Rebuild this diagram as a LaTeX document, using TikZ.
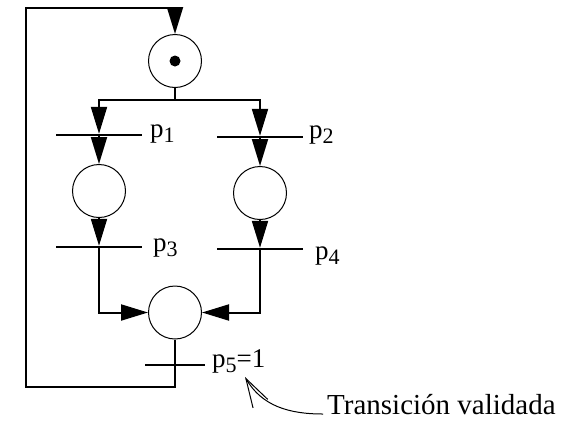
\documentclass[tikz,border=0pt]{standalone}
\usepackage{fontspec}
\setmainfont{Liberation Serif}
\usetikzlibrary{arrows.meta}
\newcommand{\lowsub}[1]{\raisebox{-5.5pt}{\fontsize{22}{22}\selectfont #1}}
\begin{document}
\begin{tikzpicture}[x=1pt,y=1pt,
  place/.style={circle,draw,line width=1pt,minimum size=53pt,inner sep=0pt},
  trans/.style={rectangle,fill=black,inner sep=0pt,minimum height=2pt},
  arc/.style={line width=2pt,-{Triangle[length=27pt,width=16pt]}},
  plain/.style={line width=2pt},
  lbl/.style={font=\fontsize{27}{32}\selectfont,inner sep=0pt,anchor=base west},
  notetext/.style={font=\fontsize{29}{34}\selectfont,inner xsep=4pt,inner ysep=0pt,anchor=base west},
  note/.style={line width=1pt,-{Straight Barb[length=29pt,width=17pt]}}]
\useasboundingbox (0,0) rectangle (575,-421);
% places
\node[place] (c0) at (175,-61) {};
\fill (c0.center) circle (5.5);
\node[place] (c1) at (99,-191) {};
\node[place] (c2) at (260,-193) {};
\node[place] (c5) at (175,-312.5) {};
% transitions
\node[trans,minimum width=86pt] (t1) at (99,-135) {};
\node[trans,minimum width=86pt] (t2) at (260,-137) {};
\node[trans,minimum width=86pt] (t3) at (99,-247) {};
\node[trans,minimum width=86pt] (t4) at (260,-249) {};
\node[trans,minimum width=60pt] (t5) at (175,-365) {};
% helper coordinates
\coordinate (j) at (175,-100);
\coordinate (bl) at (26,-387);
\coordinate (tl) at (26,-8);
% arcs
\draw[plain] (c0.south) -- (j);
\draw[arc] (j) -| (t1.north);
\draw[arc] (j) -| (t2.north);
\draw[arc] (t1.center) -- (c1.north);
\draw[arc] (t2.center) -- (c2.north);
\draw[arc] (c1.south) -- (t3.north);
\draw[arc] (c2.south) -- (t4.north);
\draw[arc] (t3.center) |- (c5.west);
\draw[arc] (t4.center) |- (c5.east);
\draw[arc] (c5.south) |- (bl) -- (tl) -| (c0.north);
% labels
\node[lbl] (l1) at (150,-137) {p\lowsub{1}};
\node[lbl] (l2) at (309,-138) {p\lowsub{2}};
\node[lbl] (l3) at (153,-251) {p\lowsub{3}};
\node[lbl] (l4) at (315,-259) {p\lowsub{4}};
\node[lbl] (l5) at (212,-367) {p\lowsub{5}=1};
% annotation
\node[notetext] (tv) at (323,-414) {Transición validada};
\coordinate (tip) at (245,-377);
\draw[note] (tv.base west) to[out=180,in=-60] (tip);
\end{tikzpicture}
\end{document}
